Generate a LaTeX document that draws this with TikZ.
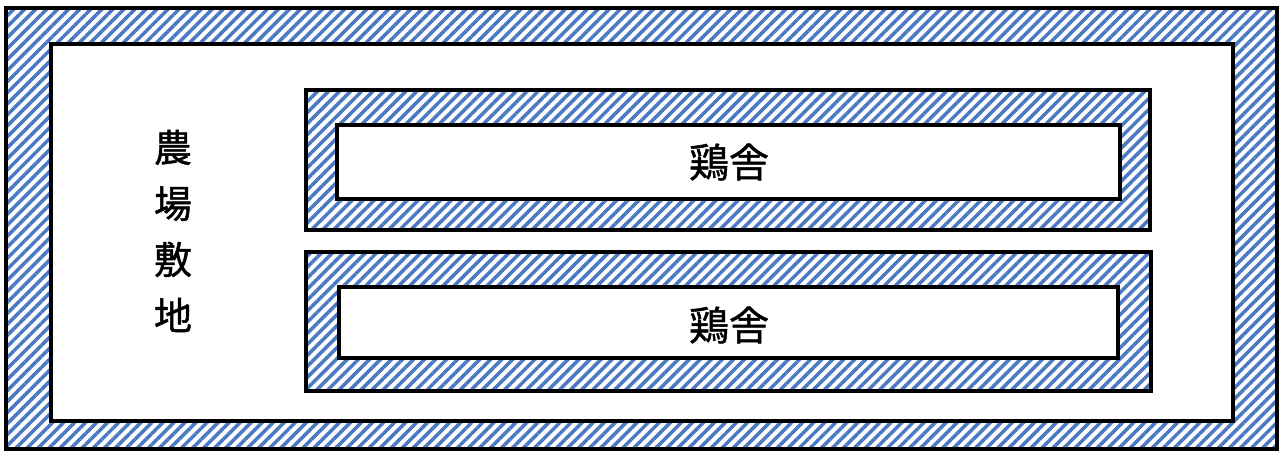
\documentclass[tikz,border=0pt]{standalone}
\usepackage{fontspec}
\newfontfamily\cjk[FakeBold=1.2]{Noto Sans CJK JP}
\usetikzlibrary{patterns.meta}
\definecolor{hatchblue}{HTML}{4A78C2}
\tikzset{
  hatched/.style={draw=black, line width=4pt, pattern={Lines[angle=45,distance=7.8pt,line width=3.5pt]}, pattern color=hatchblue},
  blank/.style={draw=black, line width=4pt, fill=white},
  label/.style={font=\cjk\fontsize{40pt}{48pt}\selectfont, inner sep=0pt},
}
\begin{document}
\begin{tikzpicture}[x=1pt,y=-1pt]
\useasboundingbox (0,0) rectangle (1287,453);
% farm grounds
\draw[hatched] (6,8) rectangle (1277,449);
\draw[blank] (51,44) rectangle (1233,421);
\node[label, font=\cjk\fontsize{38pt}{56pt}\selectfont, align=center] (farm) at (173,231) {農\\場\\敷\\地};
% chicken house 1
\draw[hatched] (306,90) rectangle (1150,230);
\draw[blank] (337,125) rectangle (1120,199);
\node[label] (house1) at (729,162) {鶏舎};
% chicken house 2
\draw[hatched] (306,252) rectangle (1151,391);
\draw[blank] (339,287) rectangle (1118,358);
\node[label] (house2) at (729,325) {鶏舎};
\end{tikzpicture}
\end{document}
